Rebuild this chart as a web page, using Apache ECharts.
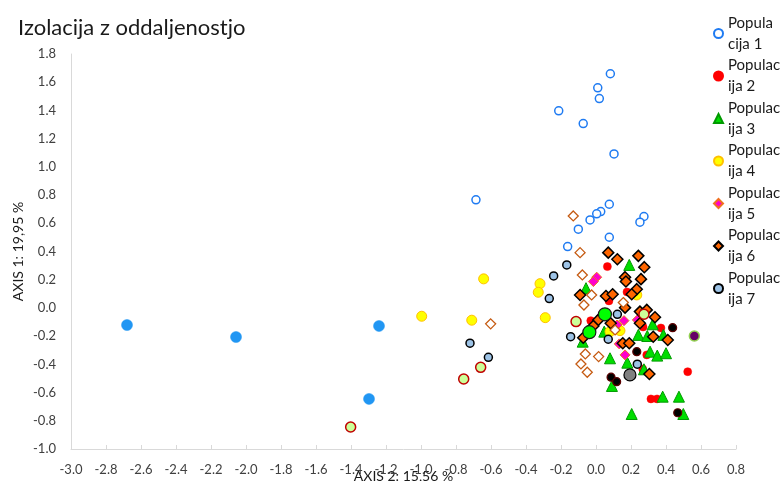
<!DOCTYPE html>
<html>
<head>
<meta charset="utf-8">
<script src="https://cdn.jsdelivr.net/npm/echarts@6/dist/echarts.min.js"></script>
<style>
  html, body { margin: 0; padding: 0; background: #fff; }
  #chart { width: 780px; height: 481px; }
</style>
</head>
<body>
<div id="chart"></div>
<script>
// PCoA scores: [AXIS 2, AXIS 1] per sample
const pop1 = [[0.082,1.660],[0.010,1.560],[0.019,1.484],[-0.213,1.397],[-0.073,1.307],[0.103,1.092],
  [0.076,0.735],[0.027,0.683],[0.004,0.667],[-0.034,0.624],[0.274,0.648],[0.251,0.608],
  [-0.101,0.558],[-0.162,0.435],[0.076,0.501],[-0.686,0.766]];
const pop2 = [[0.065,0.293],[0.074,0.050],[0.171,0.199],[0.177,0.113],[-0.030,-0.090],[0.023,-0.071],
  [0.371,-0.142],[0.269,-0.135],[0.290,-0.333],[0.267,-0.433],[0.524,-0.452],[0.314,-0.645],[0.349,-0.645]];
const pop3 = [[0.190,0.305],[-0.057,0.140],[0.047,-0.168],[-0.076,-0.239],[0.324,-0.116],[0.242,-0.191],
  [0.293,-0.199],[0.385,-0.191],[0.309,-0.310],[0.350,-0.338],[0.400,-0.321],[0.080,-0.357],
  [0.179,-0.388],[0.274,-0.435],[0.091,-0.553],[0.381,-0.629],[0.474,-0.629],[0.204,-0.752],[0.499,-0.752]];
const pop4 = [[-0.642,0.206],[-0.996,-0.059],[-0.710,-0.087],[-0.320,0.172],[-0.330,0.111],[-0.290,-0.069],
  [0.233,0.092],[0.080,-0.168],[0.137,-0.161]];
const pop5 = [[0.004,0.218],[-0.015,0.187],[0.160,-0.090],[0.236,-0.085],[0.120,-0.121],[0.133,-0.255],[0.166,-0.333]];
const pop6 = [[0.070,0.392],[0.122,0.345],[0.242,0.369],[0.276,0.289],[0.166,0.218],[0.171,0.187],
  [0.257,0.204],[0.233,0.133],[0.204,0.097],[-0.091,0.092],[0.057,0.085],[0.095,0.097],
  [0.166,0.002],[0.251,-0.026],[0.290,-0.014],[0.337,-0.066],[0.013,-0.085],[0.084,-0.109],
  [0.251,-0.109],[-0.015,-0.128],[0.327,-0.204],[0.410,-0.227],[0.153,-0.250],[0.190,-0.250],
  [-0.073,-0.211],[0.305,-0.468]];
const pop7 = [[-0.242,0.227],[-0.267,0.066],[-0.720,-0.250],[-0.615,-0.350],[-0.167,0.305],
  [0.122,-0.045],[-0.145,-0.204],[0.070,-0.222],[0.236,-0.399]];
// additional groups plotted without legend entries
const grpOpenDiamond = [[-0.602,-0.113],[-0.130,0.652],[-0.091,0.392],[-0.078,0.234],[-0.025,0.092],
  [-0.069,0.021],[0.156,0.038],[-0.061,-0.326],[0.015,-0.345],[-0.086,-0.397],[-0.050,-0.456],[0.109,-0.156]];
const grpBlack = [[0.438,-0.140],[0.233,-0.310],[0.086,-0.491],[0.118,-0.523],[0.467,-0.743]];
const grpPaleGreen = [[-1.402,-0.844],[-0.756,-0.504],[-0.659,-0.421],[-0.114,-0.097],[0.274,-0.045]];
const grpBlue = [[-2.680,-0.121],[-2.057,-0.206],[-1.240,-0.128],[-1.297,-0.645]];
const grpGreen = [[0.051,-0.045],[-0.038,-0.172]];
const grpGrey = [[0.194,-0.475]];
const grpPurple = [[0.562,-0.199]];

const seriesNames = ['Populacija 1','Populacija 2','Populacija 3','Populacija 4','Populacija 5','Populacija 6','Populacija 7'];
const legendLabels = ['Popula\ncija 1','Populac\nija 2','Populac\nija 3','Populac\nija 4','Populac\nija 5','Populac\nija 6','Populac\nija 7'];

const FONT = 'Lato, "Liberation Sans", sans-serif';

function sc(name, data, symbol, size, fill, border, bw) {
  return {
    type: 'scatter', name, data, symbol, symbolSize: size,
    itemStyle: { color: fill, borderColor: border, borderWidth: bw, opacity: 1 },
    emphasis: { disabled: true }
  };
}

const chart = echarts.init(document.getElementById('chart'), null, { renderer: 'canvas' });
chart.setOption({
  animation: false,
  backgroundColor: '#ffffff',
  title: {
    text: 'Izolacija z oddaljenostjo', left: 13, top: 12,
    textStyle: { fontFamily: FONT, fontSize: 22, fontWeight: 'normal', color: '#1a1a1a' }
  },
  legend: {
    orient: 'vertical', left: 713, top: 2, padding: 0, itemGap: -20.5,
    itemWidth: 9, itemHeight: 9,
    data: seriesNames,
    formatter: name => legendLabels[seriesNames.indexOf(name)],
    textStyle: { fontFamily: FONT, fontSize: 15, lineHeight: 21, color: '#1a1a1a', padding: [21, 0, 0, 0] }
  },
  grid: { left: 71, right: 44, top: 54, bottom: 32, containLabel: false, outerBoundsMode: 'none' },
  xAxis: {
    type: 'value', min: -3, max: 0.8, interval: 0.2,
    name: 'AXIS 2: 15,56 %', nameLocation: 'middle', nameGap: 20, nameMoveOverlap: false,
    nameTextStyle: { fontFamily: FONT, fontSize: 14, color: '#1a1a1a' },
    axisLine: { onZero: false, lineStyle: { color: '#d9d9d9', width: 1 } },
    axisTick: { show: true, inside: true, length: 4, lineStyle: { color: '#d9d9d9' } },
    axisLabel: { fontFamily: FONT, fontSize: 13, color: '#404040', margin: 14, formatter: v => v.toFixed(1) },
    splitLine: { show: false }
  },
  yAxis: {
    type: 'value', min: -1, max: 1.8, interval: 0.2,
    name: 'AXIS 1: 19,95 %', nameLocation: 'middle', nameGap: 46, nameMoveOverlap: false,
    nameTextStyle: { fontFamily: FONT, fontSize: 14, color: '#1a1a1a' },
    axisLine: { show: true, onZero: false, lineStyle: { color: '#d9d9d9', width: 1 } },
    axisTick: { show: false },
    axisLabel: { fontFamily: FONT, fontSize: 13, color: '#404040', margin: 15, formatter: v => v.toFixed(1) },
    splitLine: { show: false }
  },
  series: [
    sc(seriesNames[0], pop1, 'circle', 8, '#ffffff', '#1f7bf2', 1.5),
    sc(seriesNames[1], pop2, 'circle', 8, '#ff0000', '#ff0000', 0.5),
    sc(seriesNames[2], pop3, 'triangle', 11, '#00dd00', '#009a00', 1),
    sc(seriesNames[3], pop4, 'circle', 10, '#ffff00', '#ffc000', 1),
    sc(seriesNames[4], pop5, 'diamond', 10, '#ff00cc', '#f07020', 1),
    sc(seriesNames[5], pop6, 'diamond', 11, '#ff6600', '#000000', 1.5),
    sc(seriesNames[6], pop7, 'circle', 8, '#9dc3e6', '#000000', 1.5),
    sc('g8', grpOpenDiamond, 'diamond', 10, '#ffffff', '#c55a11', 1.3),
    sc('g9', grpBlack, 'circle', 8, '#000000', '#5a0000', 1.2),
    sc('g10', grpPaleGreen, 'circle', 10, '#ccff99', '#c00000', 1.5),
    sc('g11', grpBlue, 'circle', 11, '#2196f3', '#2196f3', 0.5),
    sc('g12', grpGreen, 'circle', 13, '#00ff00', '#1a1a1a', 1.2),
    sc('g13', grpGrey, 'circle', 12, '#808080', '#000000', 1.2),
    sc('g14', grpPurple, 'circle', 10, '#660066', '#92d050', 1.5)
  ]
});
</script>
</body>
</html>
